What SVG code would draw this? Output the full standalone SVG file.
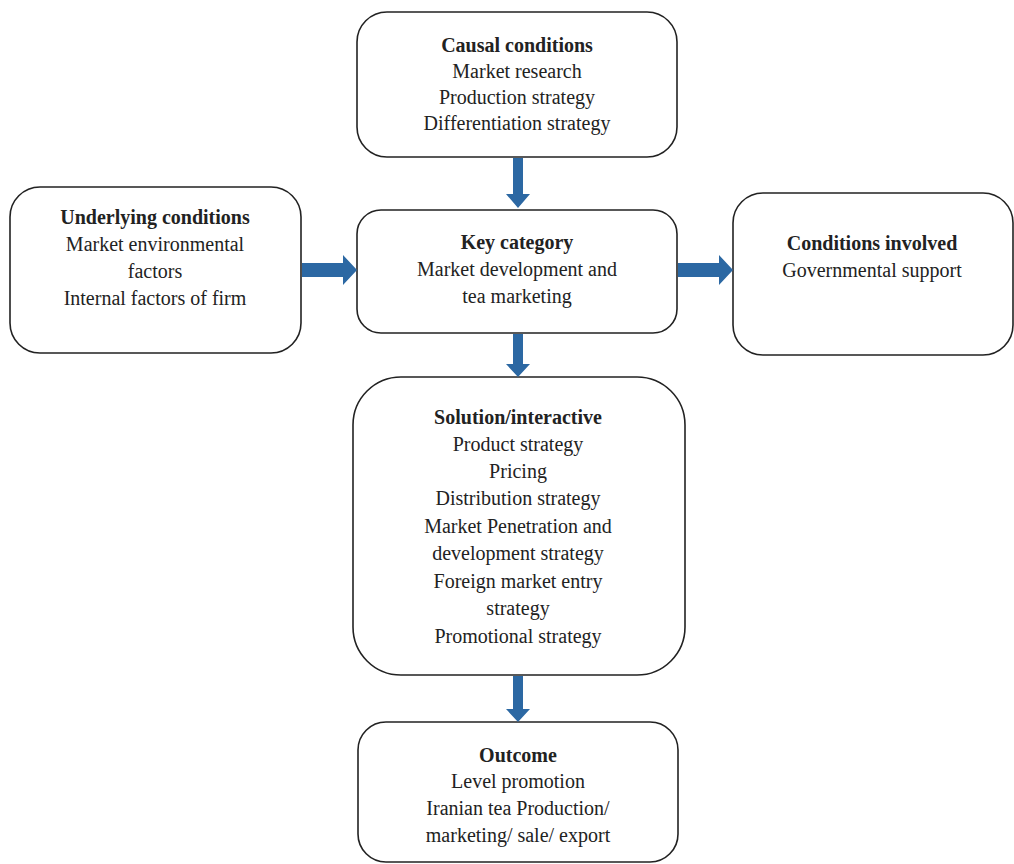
<svg xmlns="http://www.w3.org/2000/svg" width="1014" height="864" viewBox="0 0 1014 864">
<style>
.box{fill:#fff;stroke:#222;stroke-width:1.6}
text{font-family:"Liberation Serif","Times New Roman",serif;font-size:20px;fill:#222;text-anchor:middle}
.b{font-weight:bold}
.arr{fill:#2c68a3}
</style>
<rect width="1014" height="864" fill="#fff"/>
<g id="causal">
<rect class="box" x="357" y="12" width="320" height="145" rx="30"/>
<text x="517" y="52" class="b">Causal conditions</text>
<text x="517" y="78">Market research</text>
<text x="517" y="104">Production strategy</text>
<text x="517" y="130">Differentiation strategy</text>
</g>
<g id="underlying">
<rect class="box" x="10" y="187" width="291" height="166" rx="30"/>
<text x="155" y="224" class="b">Underlying conditions</text>
<text x="155" y="251">Market environmental</text>
<text x="155" y="278">factors</text>
<text x="155" y="305">Internal factors of firm</text>
</g>
<g id="key">
<rect class="box" x="357" y="210" width="320" height="123" rx="24"/>
<text x="517" y="249" class="b">Key category</text>
<text x="517" y="276">Market development and</text>
<text x="517" y="303">tea marketing</text>
</g>
<g id="involved">
<rect class="box" x="733" y="193" width="280" height="162" rx="30"/>
<text x="872" y="250" class="b">Conditions involved</text>
<text x="872" y="277">Governmental support</text>
</g>
<g id="solution">
<rect class="box" x="353" y="377" width="332" height="298" rx="48"/>
<text x="518" y="424" class="b">Solution/interactive</text>
<text x="518" y="451">Product strategy</text>
<text x="518" y="478">Pricing</text>
<text x="518" y="505">Distribution strategy</text>
<text x="518" y="533">Market Penetration and</text>
<text x="518" y="560">development strategy</text>
<text x="518" y="588">Foreign market entry</text>
<text x="518" y="615">strategy</text>
<text x="518" y="643">Promotional strategy</text>
</g>
<g id="outcome">
<rect class="box" x="358" y="722" width="320" height="140" rx="28"/>
<text x="518" y="762" class="b">Outcome</text>
<text x="518" y="788">Level promotion</text>
<text x="518" y="815">Iranian tea Production/</text>
<text x="518" y="842">marketing/ sale/ export</text>
</g>
<g id="connectors">
<polygon class="arr" points="513,158 523,158 523,194 530,194 518,208 506,194 513,194"/>
<polygon class="arr" points="302,263 343,263 343,255 357,270 343,285 343,277 302,277"/>
<polygon class="arr" points="678,263 719,263 719,255 733,270 719,285 719,277 678,277"/>
<polygon class="arr" points="513,334 523,334 523,364 530,364 518,377 506,364 513,364"/>
<polygon class="arr" points="513,676 523,676 523,709 530,709 518,722 506,709 513,709"/>
</g>
</svg>
